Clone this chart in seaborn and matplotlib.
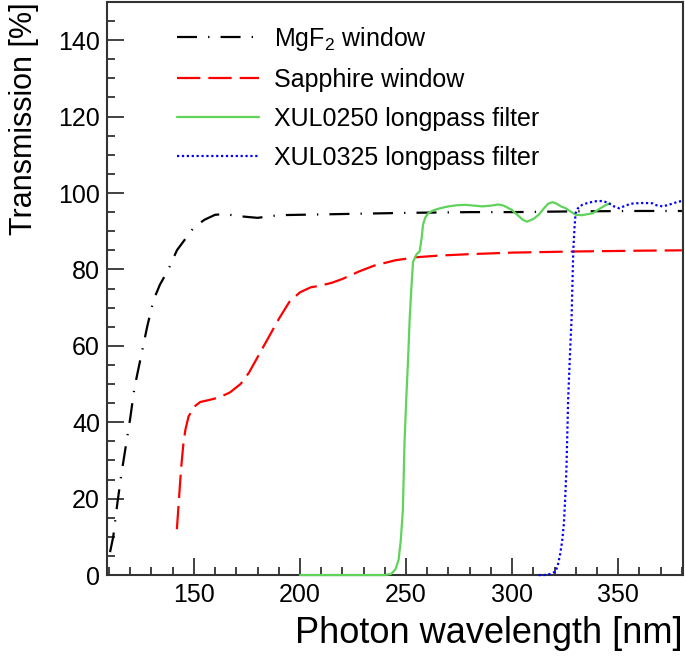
import matplotlib.pyplot as plt
import numpy as np
import pandas as pd
import seaborn as sns
from matplotlib.ticker import MultipleLocator

sns.set_style("ticks")
plt.rcParams["font.family"] = ["Liberation Sans", "DejaVu Sans"]
plt.rcParams["mathtext.fontset"] = "custom"
plt.rcParams["mathtext.rm"] = "Liberation Sans"
plt.rcParams["mathtext.it"] = "Liberation Sans:italic"
plt.rcParams["text.color"] = "black"
plt.rcParams["axes.labelcolor"] = "black"

# MgF2 window
mgf2_wl = [110.5, 112, 114, 116, 118, 120, 122, 125, 128, 131, 134, 138, 142, 146, 150,
           155, 160, 165, 170, 180, 190, 200, 220, 250, 280, 300, 330, 360, 380]
mgf2_tr = [6, 10, 19, 27, 34, 41, 49, 57, 65, 72, 76, 80, 85, 88, 91,
           93, 94.3, 94.5, 94, 93.5, 94.2, 94.3, 94.5, 94.8, 95, 95, 95.2, 95.3, 95.3]

# Sapphire window
sapph_wl = [142, 143, 144, 145, 146, 147.5, 150, 153, 157, 162, 167, 172, 176, 180, 185,
            190, 195, 200, 205, 210, 215, 220, 228, 235, 245, 255, 265, 280, 300, 330, 360, 380]
sapph_tr = [12, 20, 28, 34, 38, 41.5, 44, 45.3, 45.8, 46.5, 47.8, 50, 53, 57, 62,
            67, 71.5, 74, 75.3, 75.8, 76.5, 77.5, 79.5, 81, 82.4, 83.2, 83.6, 84, 84.4, 84.7, 84.9, 85]

# XUL0250 longpass filter
xul250_wl = [200, 210, 220, 230, 240, 243, 245, 246.5, 247.5, 248.5, 249.3, 250.1, 251, 251.7,
             252.5, 253.3, 255, 256.4, 257.3, 258, 259, 260.4, 263, 266, 270, 274, 278, 282,
             286, 290, 293.5, 296, 299.8, 303, 305, 307, 310, 312.5, 315, 317, 319, 321, 323,
             325.3, 328, 330, 333, 336, 338, 341, 344, 346]
xul250_tr = [0, 0, 0, 0, 0, 0.3, 1.5, 4, 9, 17, 35, 46, 57, 67,
             75, 82, 84, 84.7, 88, 91.7, 93.5, 94.7, 95.5, 96, 96.5, 96.8, 96.9, 96.7,
             96.5, 96.7, 97, 96.7, 95.6, 94, 93, 92.5, 93.2, 94.3, 96, 97.2, 97.6, 97.2, 96.5,
             96, 95, 94.3, 94.2, 94.5, 94.7, 95.8, 96.8, 97.3]

# XUL0325 longpass filter
xul325_wl = [312.5, 315, 318, 320.4, 321.5, 322.7, 323.6, 324.4, 325, 325.6, 326.4, 327.2, 328,
             328.8, 329.4, 329.9, 331, 333, 335, 338, 340, 342.5, 345, 348, 350.4, 353, 356,
             358.3, 362, 366.2, 368, 370.9, 373, 376, 378, 380]
xul325_tr = [0, 0, 0.3, 0.9, 2.5, 5.7, 9, 13.5, 20, 28, 46, 57, 67,
             84.7, 91, 94.7, 96, 96.9, 97.3, 97.7, 97.9, 97.9, 97.5, 96.5, 96, 96.6, 97.2,
             97.3, 97.4, 97.3, 96.8, 96.5, 96.8, 97.3, 97.7, 97.9]

curves = [
    ("MgF$_2$ window", mgf2_wl, mgf2_tr, "black", (0, (9, 5, 0.6, 5))),
    ("Sapphire window", sapph_wl, sapph_tr, "#ff0000", (0, (10.5, 3.6))),
    ("XUL0250 longpass filter", xul250_wl, xul250_tr, "#5fd35a", "-"),
    ("XUL0325 longpass filter", xul325_wl, xul325_tr, "#0000ff", (0, (1.0, 1.2))),
]

fig, ax = plt.subplots(figsize=(6.85, 6.61), dpi=100)
fig.subplots_adjust(left=0.156, right=0.997, bottom=0.130, top=0.997)

for name, wl, tr, col, ls in curves:
    df = pd.DataFrame({"wl": wl, "tr": tr})
    sns.lineplot(data=df, x="wl", y="tr", ax=ax, color=col, linestyle=ls,
                 linewidth=1.6, label=name, estimator=None, sort=False,
                 clip_on=False, zorder=4)

ax.set_xlim(109, 380.5)
ax.set_ylim(0, 150)
ax.xaxis.set_major_locator(MultipleLocator(50))
ax.xaxis.set_minor_locator(MultipleLocator(10))
ax.yaxis.set_major_locator(MultipleLocator(20))
ax.yaxis.set_minor_locator(MultipleLocator(5))
ax.tick_params(which="both", direction="in", colors="#333333", width=1.3,
               labelcolor="black", labelsize=18)
ax.tick_params(which="major", length=12)
ax.tick_params(which="minor", length=6)
ax.tick_params(axis="y", pad=5)
ax.tick_params(axis="x", pad=6)
for sp in ax.spines.values():
    sp.set_visible(True)
    sp.set_color("#333333")
    sp.set_linewidth(1.5)

ax.set_xlabel("Photon wavelength [nm]", fontsize=26, loc="right")
ax.set_ylabel("Transmission [%]", fontsize=22, loc="top")
ax.xaxis.set_label_coords(1.0, -0.072)
ax.yaxis.set_label_coords(-0.118, 1.0)

ax.legend(loc="upper left", bbox_to_anchor=(0.1, 0.982), frameon=False, fontsize=18,
          handlelength=3.3, handletextpad=0.6, labelspacing=0.6, borderpad=0)

fig.savefig("out.png", dpi=100)
